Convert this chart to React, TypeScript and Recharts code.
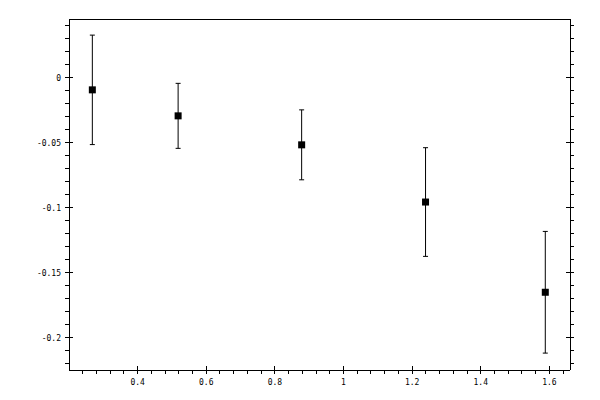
import { ScatterChart, Scatter, XAxis, YAxis, ErrorBar } from "recharts";

// measured points with symmetric y errors
const xValues = [0.268, 0.518, 0.878, 1.239, 1.588];
const yValues = [-0.0095, -0.0295, -0.0518, -0.0958, -0.1652];
const yErrors = [0.0421, 0.025, 0.0269, 0.0418, 0.0468];

const xTicks = [
  0.24, 0.28, 0.32, 0.36, 0.4, 0.44, 0.48, 0.52, 0.56, 0.6, 0.64, 0.68, 0.72,
  0.76, 0.8, 0.84, 0.88, 0.92, 0.96, 1, 1.04, 1.08, 1.12, 1.16, 1.2, 1.24,
  1.28, 1.32, 1.36, 1.4, 1.44, 1.48, 1.52, 1.56, 1.6, 1.64,
];
const xMajor = [0.4, 0.6, 0.8, 1, 1.2, 1.4, 1.6];

const yTicks = [
  0.04, 0.03, 0.02, 0.01, 0, -0.01, -0.02, -0.03, -0.04, -0.05, -0.06, -0.07,
  -0.08, -0.09, -0.1, -0.11, -0.12, -0.13, -0.14, -0.15, -0.16, -0.17, -0.18,
  -0.19, -0.2, -0.21, -0.22,
];
const yMajor = [0, -0.05, -0.1, -0.15, -0.2];

const data = xValues.map((x, i) => ({ x, y: yValues[i], err: yErrors[i] }));

const FONT = "'DejaVu Sans Mono', monospace";
const isMajor = (list: number[], v: number) =>
  list.some((m) => Math.abs(m - v) < 1e-9);

function makeTick(side: "bottom" | "top" | "left" | "right", majors: number[]) {
  return (props: any) => {
    const { x, y, payload } = props;
    const v = payload.value;
    const major = isMajor(majors, v);
    const label = String(v);
    if (side === "bottom" || side === "top") {
      const dir = side === "bottom" ? 1 : -1;
      return (
        <g>
          <line
            x1={x}
            x2={x}
            y1={major ? y - 4 * dir : y}
            y2={y + 4 * dir}
            stroke="#000"
            shapeRendering="crispEdges"
          />
          {major && side === "bottom" && (
            <text x={x} y={y + 15} textAnchor="middle" fontFamily={FONT} fontSize={8} fill="#000">
              {label}
            </text>
          )}
        </g>
      );
    }
    const dir = side === "left" ? -1 : 1;
    return (
      <g>
        <line
          y1={y}
          y2={y}
          x1={major ? x - 4 * dir : x}
          x2={x + 4 * dir}
          stroke="#000"
          shapeRendering="crispEdges"
        />
        {major && side === "left" && (
          <text x={x - 8} y={y + 3} textAnchor="end" fontFamily={FONT} fontSize={8} fill="#000">
            {label}
          </text>
        )}
      </g>
    );
  };
}

const Square = (props: any) => (
  <rect x={props.cx - 3.5} y={props.cy - 3.5} width={7} height={7} fill="#000" />
);

export default function App() {
  return (
    <div style={{ position: "absolute", left: 0, top: 0, background: "#fff" }}>
      <ScatterChart width={600} height={400} margin={{ top: 0, right: 0, bottom: 0, left: 0 }}>
        <XAxis
          type="number"
          dataKey="x"
          domain={[0.2, 1.66]}
          ticks={xTicks}
          interval={0}
          allowDataOverflow
          height={30}
          tickSize={0}
          tickMargin={0}
          tickLine={false}
          axisLine={{ stroke: "#000", shapeRendering: "crispEdges" }}
          tick={makeTick("bottom", xMajor)}
        />
        <XAxis
          xAxisId="top"
          orientation="top"
          type="number"
          domain={[0.2, 1.66]}
          ticks={xTicks}
          interval={0}
          allowDataOverflow
          height={19}
          tickSize={0}
          tickMargin={0}
          tickLine={false}
          axisLine={{ stroke: "#000", shapeRendering: "crispEdges" }}
          tick={makeTick("top", xMajor)}
        />
        <YAxis
          type="number"
          dataKey="y"
          domain={[-0.225, 0.045]}
          ticks={yTicks}
          interval={0}
          allowDataOverflow
          width={69}
          tickSize={0}
          tickMargin={0}
          tickLine={false}
          axisLine={{ stroke: "#000", shapeRendering: "crispEdges" }}
          tick={makeTick("left", yMajor)}
        />
        <YAxis
          yAxisId="right"
          orientation="right"
          type="number"
          domain={[-0.225, 0.045]}
          ticks={yTicks}
          interval={0}
          allowDataOverflow
          width={30}
          tickSize={0}
          tickMargin={0}
          tickLine={false}
          axisLine={{ stroke: "#000", shapeRendering: "crispEdges" }}
          tick={makeTick("right", yMajor)}
        />
        <Scatter data={data} shape={Square} isAnimationActive={false}>
          <ErrorBar
            dataKey="err"
            direction="y"
            width={2.5}
            stroke="#000"
            strokeWidth={1}
            isAnimationActive={false}
          />
        </Scatter>
      </ScatterChart>
    </div>
  );
}
